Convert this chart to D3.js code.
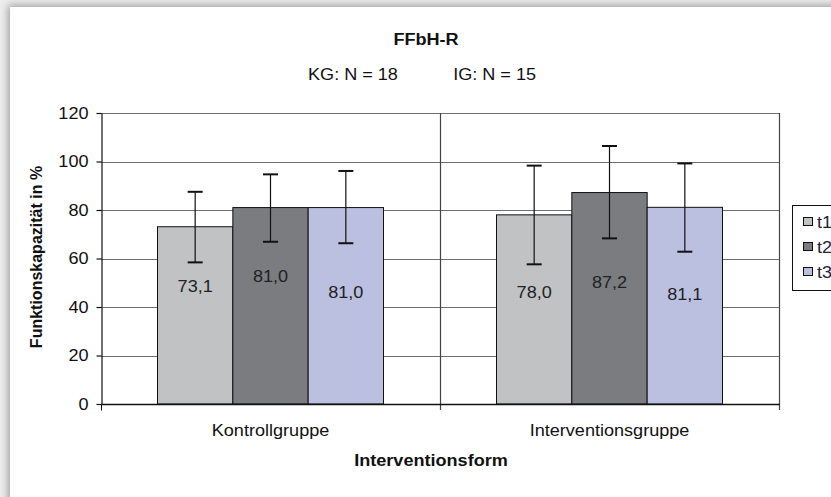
<!DOCTYPE html>
<html><head><meta charset="utf-8">
<script src="https://cdn.jsdelivr.net/npm/d3@7"></script>
<style>
html,body{margin:0;padding:0;background:#fff;}
svg{display:block;font-family:"Liberation Sans",Arial,sans-serif;}
</style></head>
<body><svg id="c" width="831" height="497"></svg>
<script>
// ---- data ----
const categories = ["Kontrollgruppe", "Interventionsgruppe"];
const series = ["t1", "t2", "t3"];
const meanValues = [
  [73.1, 81.0, 81.0],
  [78.0, 87.2, 81.1]
];
const upperValues = [
  [87.5, 94.7, 96.1],
  [98.3, 106.4, 99.2]
];
const lowerValues = [
  [58.4, 66.9, 66.3],
  [57.6, 68.3, 62.8]
];
const valueLabels = [
  ["73,1", "81,0", "81,0"],
  ["78,0", "87,2", "81,1"]
];
const yTicks = [0, 20, 40, 60, 80, 100, 120];
const titleText = "FFbH-R";
const subtitleText = "KG: N = 18           IG: N = 15";
const yTitle = "Funktionskapazität in %";
const xTitle = "Interventionsform";

// ---- layout / style ----
const colors = {t1: "#c0c2c4", t2: "#7b7c80", t3: "#bcc0e0"};
const labelOffsetPx = [[-2, -12, 4], [4, -6, 6]]; // visual nudges of value labels
const SX = 1.13;
const FS = 16;
const pLeft = 101, pRight = 779, pTop = 113, pBottom = 404;

const svg = d3.select("#c");
const defs = svg.append("defs");
const f = defs.append("filter").attr("id","sh").attr("x","-10%").attr("y","-10%").attr("width","130%").attr("height","130%");
f.append("feDropShadow").attr("dx",-2).attr("dy",-2).attr("stdDeviation",4).attr("flood-color","#8a8a8a").attr("flood-opacity",0.8);

svg.append("rect").attr("width",831).attr("height",497).attr("fill","#eeeeee");
svg.append("rect").attr("x",10).attr("y",7).attr("width",900).attr("height",600).attr("fill","#fff").attr("filter","url(#sh)");

const x = d3.scaleBand().domain(categories).range([pLeft, pRight]).paddingInner(0).paddingOuter(0);
const xs = d3.scaleBand().domain(series).range([0, x.bandwidth()]).paddingInner(0).paddingOuter(0.75);
const y = d3.scaleLinear().domain([0, 120]).range([pBottom, pTop]);

function txt(g, px, py, s, o) {
  o = o || {};
  return g.append("text")
    .attr("transform", `translate(${px},${py}) scale(${o.sx || SX},1)`)
    .attr("text-anchor", o.anchor || "middle")
    .attr("font-size", o.size || FS)
    .attr("font-weight", o.bold ? "bold" : "normal")
    .attr("fill", o.fill || "#111")
    .text(s);
}

// gridlines
const grid = svg.append("g");
grid.selectAll("line.h").data(yTicks.filter(d => d > 0)).join("line")
  .attr("x1", pLeft).attr("x2", pRight)
  .attr("y1", d => Math.round(y(d)) + 0.5).attr("y2", d => Math.round(y(d)) + 0.5)
  .attr("stroke", "#6f6f6f").attr("stroke-width", 1.2);
const vb = [x(categories[1]), pRight];
grid.selectAll("line.v").data(vb).join("line")
  .attr("x1", d => d + 0.5).attr("x2", d => d + 0.5)
  .attr("y1", pTop).attr("y2", pBottom + 6)
  .attr("stroke", "#444").attr("stroke-width", 1.2);

// bars
const flat = [];
categories.forEach((c, i) => series.forEach((s, j) => flat.push({c, s, i, j,
  v: meanValues[i][j], hi: upperValues[i][j], lo: lowerValues[i][j], lab: valueLabels[i][j]})));

svg.append("g").selectAll("rect").data(flat).join("rect")
  .attr("x", d => x(d.c) + xs(d.s))
  .attr("y", d => y(d.v))
  .attr("width", xs.bandwidth())
  .attr("height", d => y(0) - y(d.v))
  .attr("fill", d => colors[d.s])
  .attr("stroke", "#111").attr("stroke-width", 1);

// error bars
const eb = svg.append("g").attr("stroke", "#111");
const cx = d => x(d.c) + xs(d.s) + xs.bandwidth() / 2;
eb.selectAll("line.s").data(flat).join("line")
  .attr("x1", cx).attr("x2", cx).attr("y1", d => y(d.hi)).attr("y2", d => y(d.lo)).attr("stroke-width", 1.2);
eb.selectAll("line.t").data(flat).join("line")
  .attr("x1", d => cx(d) - 7.5).attr("x2", d => cx(d) + 7.5).attr("y1", d => y(d.hi)).attr("y2", d => y(d.hi)).attr("stroke-width", 2);
eb.selectAll("line.b").data(flat).join("line")
  .attr("x1", d => cx(d) - 7.5).attr("x2", d => cx(d) + 7.5).attr("y1", d => y(d.lo)).attr("y2", d => y(d.lo)).attr("stroke-width", 2);

// value labels
const lg = svg.append("g");
flat.forEach(d => {
  txt(lg, cx(d), y(48) + 6 + labelOffsetPx[d.i][d.j], d.lab, {fill: "#222"});
});

// y axis
const ya = svg.append("g").attr("transform", `translate(${pLeft + 0.5},0)`)
  .call(d3.axisLeft(y).tickValues(yTicks).tickSize(5).tickSizeOuter(0).tickPadding(8));
ya.select(".domain").attr("stroke", "#111").attr("stroke-width", 1.2);
ya.selectAll(".tick line").attr("stroke", "#111").attr("stroke-width", 1.2);
ya.selectAll(".tick text").attr("font-size", FS).attr("font-family", "Liberation Sans, Arial, sans-serif")
  .attr("fill", "#111").attr("transform", `scale(${SX},1)`).attr("x", -11.5);

// x axis
const xa = svg.append("g").attr("transform", `translate(0,${pBottom + 0.5})`);
xa.append("line").attr("x1", pLeft).attr("x2", pRight + 1).attr("stroke", "#111").attr("stroke-width", 1.5);
xa.append("line").attr("x1", pLeft + 0.5).attr("x2", pLeft + 0.5).attr("y1", 0).attr("y2", 6).attr("stroke", "#111");
categories.forEach(c => txt(svg, x(c) + x.bandwidth() / 2, 436, c));

// titles
txt(svg, 426, 45, titleText, {bold: true});
txt(svg, 422, 80, subtitleText).attr("xml:space", "preserve").style("white-space", "pre");
txt(svg, 431, 466, xTitle, {bold: true});
svg.append("text").attr("transform", "translate(42,257) rotate(-90)")
  .attr("text-anchor", "middle").attr("font-size", FS).attr("font-weight", "bold").attr("fill", "#111")
  .text(yTitle);

// legend
const leg = svg.append("g");
leg.append("rect").attr("x", 792.5).attr("y", 205.5).attr("width", 60).attr("height", 85)
  .attr("fill", "#fff").attr("stroke", "#111").attr("stroke-width", 1);
series.forEach((s, k) => {
  const yy = 222 + k * 25;
  leg.append("rect").attr("x", 803.5).attr("y", yy - 4.5).attr("width", 9).attr("height", 8)
    .attr("fill", colors[s]).attr("stroke", "#111");
  txt(leg, 817, yy + 6, s, {anchor: "start", fill: "#223"});
});
</script></body></html>
